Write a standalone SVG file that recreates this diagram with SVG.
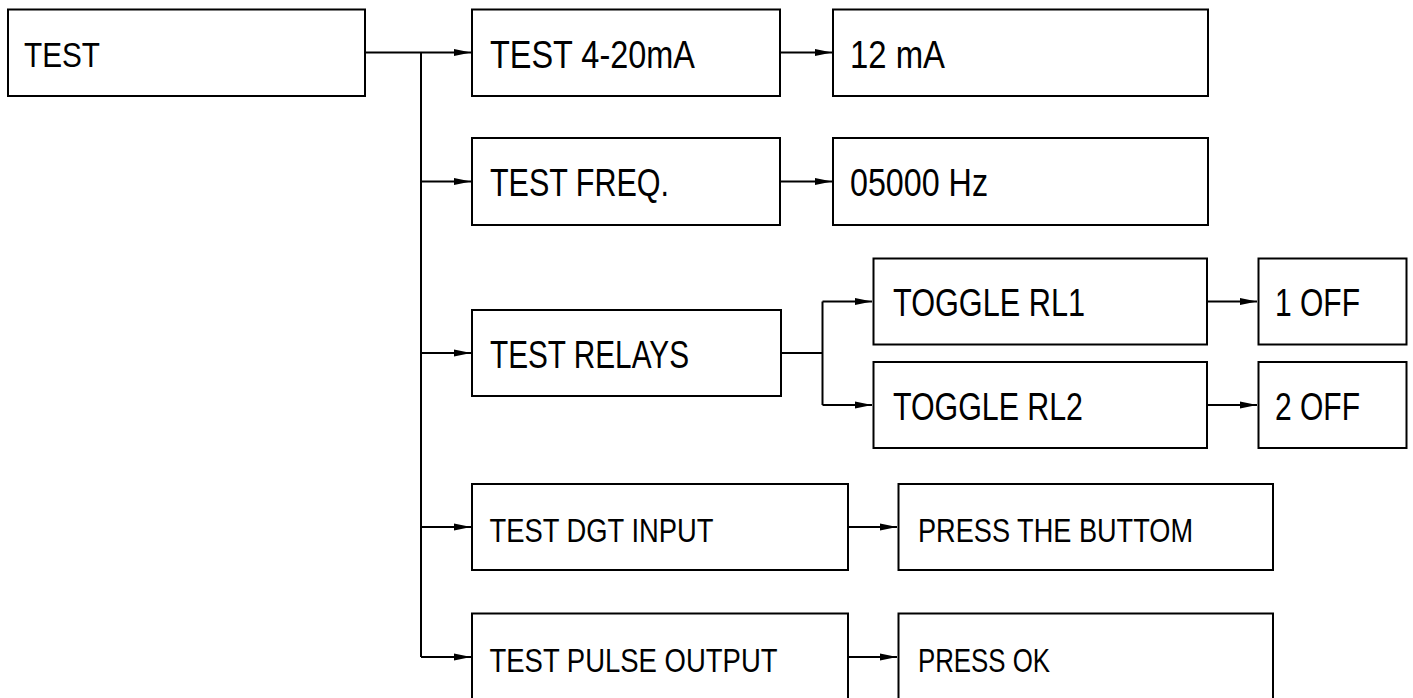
<svg xmlns="http://www.w3.org/2000/svg" width="1413" height="698" viewBox="0 0 1413 698">
<defs>
<style>
.box{fill:#fff;stroke:#000;stroke-width:2}
.lbl{font-family:"Liberation Sans",Arial,sans-serif;font-size:38px;fill:#000}
.sm{font-size:34px}
.ln{fill:none;stroke:#000;stroke-width:2}
</style>
<marker id="ah" markerUnits="userSpaceOnUse" markerWidth="18" markerHeight="10" refX="17" refY="4" orient="auto">
<path d="M0,0.5 L17,4 L0,7.5 Z" fill="#000"/>
</marker>
</defs>
<rect width="1413" height="698" fill="#fff"/>
<g id="connectors">
<path class="ln" d="M365,52.5 H471" marker-end="url(#ah)"/>
<path class="ln" d="M421,52.5 V657"/>
<path class="ln" d="M421,181.5 H471" marker-end="url(#ah)"/>
<path class="ln" d="M421,353 H471" marker-end="url(#ah)"/>
<path class="ln" d="M421,527 H471" marker-end="url(#ah)"/>
<path class="ln" d="M421,657 H471" marker-end="url(#ah)"/>
<path class="ln" d="M780,52.5 H832" marker-end="url(#ah)"/>
<path class="ln" d="M780,181.5 H832" marker-end="url(#ah)"/>
<path class="ln" d="M781,353 H822.5"/>
<path class="ln" d="M822.5,301.5 V405"/>
<path class="ln" d="M822.5,301.5 H872" marker-end="url(#ah)"/>
<path class="ln" d="M822.5,405 H872" marker-end="url(#ah)"/>
<path class="ln" d="M1207,301.5 H1257" marker-end="url(#ah)"/>
<path class="ln" d="M1207,405 H1257" marker-end="url(#ah)"/>
<path class="ln" d="M848,527 H897" marker-end="url(#ah)"/>
<path class="ln" d="M848,657 H897" marker-end="url(#ah)"/>
</g>
<g id="n-test"><rect class="box" x="8" y="9.5" width="357" height="86.5"/><text class="lbl" style="font-size:35px" x="24" y="67" textLength="76" lengthAdjust="spacingAndGlyphs">TEST</text></g>
<g id="n-test420"><rect class="box" x="472" y="9.5" width="308" height="86.5"/><text class="lbl" x="490" y="68" textLength="205" lengthAdjust="spacingAndGlyphs">TEST 4-20mA</text></g>
<g id="n-12ma"><rect class="box" x="833" y="9.5" width="375" height="86.5"/><text class="lbl" x="850" y="68" textLength="95" lengthAdjust="spacingAndGlyphs">12 mA</text></g>
<g id="n-testfreq"><rect class="box" x="472" y="138" width="308" height="87"/><text class="lbl" x="490" y="196" textLength="179" lengthAdjust="spacingAndGlyphs">TEST FREQ.</text></g>
<g id="n-05000"><rect class="box" x="833" y="138" width="375" height="87"/><text class="lbl" x="850" y="196" textLength="138" lengthAdjust="spacingAndGlyphs">05000 Hz</text></g>
<g id="n-testrelays"><rect class="box" x="472" y="310" width="309" height="86"/><text class="lbl" x="490" y="368" textLength="199" lengthAdjust="spacingAndGlyphs">TEST RELAYS</text></g>
<g id="n-rl1"><rect class="box" x="873.5" y="258.5" width="333.5" height="86"/><text class="lbl" x="893" y="316" textLength="192" lengthAdjust="spacingAndGlyphs">TOGGLE RL1</text></g>
<g id="n-rl2"><rect class="box" x="873.5" y="362" width="333.5" height="86"/><text class="lbl" x="893" y="419.5" textLength="190" lengthAdjust="spacingAndGlyphs">TOGGLE RL2</text></g>
<g id="n-1off"><rect class="box" x="1258.5" y="258.5" width="148" height="86"/><text class="lbl" x="1275" y="316" textLength="85" lengthAdjust="spacingAndGlyphs">1 OFF</text></g>
<g id="n-2off"><rect class="box" x="1258.5" y="362" width="148" height="86"/><text class="lbl" x="1275" y="419.5" textLength="85" lengthAdjust="spacingAndGlyphs">2 OFF</text></g>
<g id="n-dgt"><rect class="box" x="472" y="484" width="376" height="86"/><text class="lbl sm" x="489.5" y="541.5" textLength="224" lengthAdjust="spacingAndGlyphs">TEST DGT INPUT</text></g>
<g id="n-press-btn"><rect class="box" x="898.5" y="484" width="374.5" height="86"/><text class="lbl sm" x="918" y="541.5" textLength="275" lengthAdjust="spacingAndGlyphs">PRESS THE BUTTOM</text></g>
<g id="n-pulse"><rect class="box" x="472" y="613.5" width="376" height="90"/><text class="lbl sm" x="489.5" y="671.5" textLength="288" lengthAdjust="spacingAndGlyphs">TEST PULSE OUTPUT</text></g>
<g id="n-press-ok"><rect class="box" x="898.5" y="613.5" width="374.5" height="90"/><text class="lbl sm" x="918" y="671.5" textLength="132" lengthAdjust="spacingAndGlyphs">PRESS OK</text></g>
</svg>
